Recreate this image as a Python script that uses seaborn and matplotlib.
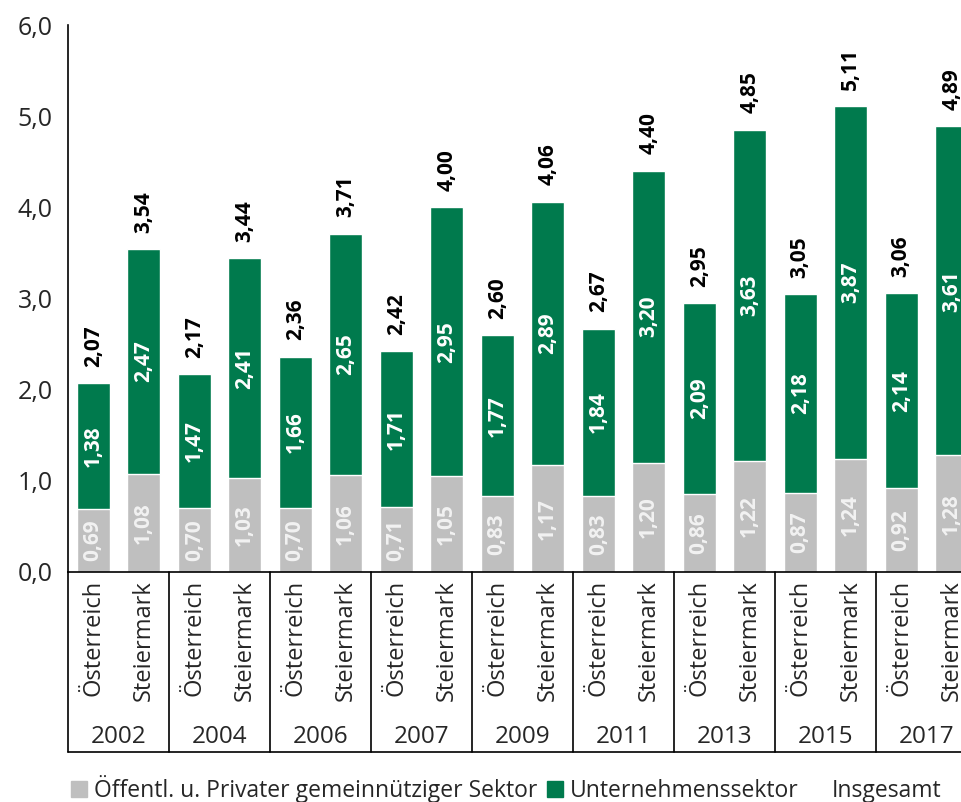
import matplotlib
matplotlib.use("Agg")
import matplotlib.pyplot as plt
import matplotlib.transforms as mtransforms
from matplotlib.patches import Patch
import pandas as pd
import seaborn as sns

# Data
years = ["2002", "2004", "2006", "2007", "2009", "2011", "2013", "2015", "2017"]
regions = ["Österreich", "Steiermark"]
oeffentl = [0.69, 1.08, 0.70, 1.03, 0.70, 1.06, 0.71, 1.05, 0.83, 1.17,
            0.83, 1.20, 0.86, 1.22, 0.87, 1.24, 0.92, 1.28]
unternehmen = [1.38, 2.47, 1.47, 2.41, 1.66, 2.65, 1.71, 2.95, 1.77, 2.89,
               1.84, 3.20, 2.09, 3.63, 2.18, 3.87, 2.14, 3.61]
insgesamt = [2.07, 3.54, 2.17, 3.44, 2.36, 3.71, 2.42, 4.00, 2.60, 4.06,
             2.67, 4.40, 2.95, 4.85, 3.05, 5.11, 3.06, 4.89]

GREEN = "#007A4D"
GREY = "#BFBFBF"

df = pd.DataFrame({
    "key": [f"{y}_{r}" for y in years for r in regions],
    "region": [r for y in years for r in regions],
    "oeff": oeffentl,
    "unt": unternehmen,
    "total": insgesamt,
})

sns.set_style("white")
plt.rcParams["font.family"] = ["Open Sans", "DejaVu Sans"]

fig = plt.figure(figsize=(9.62, 8.02), dpi=100)
ax = fig.add_axes([68 / 962, 1 - 572 / 802, 909 / 962, 547 / 802])

# green = total height, grey drawn over the lower part
sns.barplot(data=df, x="key", y="total", color=GREEN, width=0.66,
            saturation=1, ax=ax, order=df["key"])
sns.barplot(data=df, x="key", y="oeff", color=GREY, width=0.66,
            saturation=1, ax=ax, order=df["key"])

ax.set_xlim(-0.5, 17.5)
ax.set_ylim(0, 6)
ax.set_yticks([0, 1, 2, 3, 4, 5, 6])
ax.set_yticklabels([f"{v},0" for v in range(7)], fontsize=18)
ax.tick_params(axis="y", direction="out", length=6, width=1.2, color="black", pad=5)
ax.set_xlabel("")
ax.set_ylabel("")
for s in ["top", "right"]:
    ax.spines[s].set_visible(False)
for s in ["left", "bottom"]:
    ax.spines[s].set_color("black")
    ax.spines[s].set_linewidth(1.2)

def fmt(v):
    return f"{v:.2f}".replace(".", ",")

for i, row in df.iterrows():
    ax.text(i, row["oeff"] / 2, fmt(row["oeff"]), rotation=90, ha="center",
            va="center", color="#F2F2F2", fontsize=15, fontweight="bold")
    ax.text(i, (row["oeff"] + row["total"]) / 2, fmt(row["unt"]), rotation=90,
            ha="center", va="center", color="white", fontsize=15, fontweight="bold")
    ax.text(i, row["total"] + 0.18, fmt(row["total"]), rotation=90, ha="center",
            va="bottom", color="black", fontsize=15, fontweight="bold")

# category table below the axis
ax.set_xticks(range(len(df)))
ax.set_xticklabels(df["region"], rotation=90, fontsize=17, va="top")
ax.tick_params(axis="x", length=0, pad=6)

trans = mtransforms.blended_transform_factory(ax.transData, ax.transAxes)
y_bottom = -180 / 547
for g in range(len(years) + 1):
    xg = 2 * g - 0.5
    ax.plot([xg, xg], [0, y_bottom], color="black", lw=1.2,
            transform=trans, clip_on=False)
ax.plot([-0.5, 17.5], [y_bottom, y_bottom], color="black", lw=1.2,
        transform=trans, clip_on=False)
for g, y in enumerate(years):
    ax.text(2 * g + 0.5, -165 / 547, y, transform=trans, ha="center",
            va="center", fontsize=17.5)

handles = [Patch(color=GREY), Patch(color=GREEN), Patch(color="none")]
labels = ["Öffentl. u. Privater gemeinnütziger Sektor", "Unternehmenssektor", "Insgesamt"]
fig.legend(handles, labels, loc="lower left", bbox_to_anchor=(50 / 962, -0.027),
           ncol=3, frameon=False, fontsize=16.5, handlelength=0.7, handleheight=0.7,
           handletextpad=0.3, columnspacing=0.45)

fig.savefig("out.png", dpi=100)
